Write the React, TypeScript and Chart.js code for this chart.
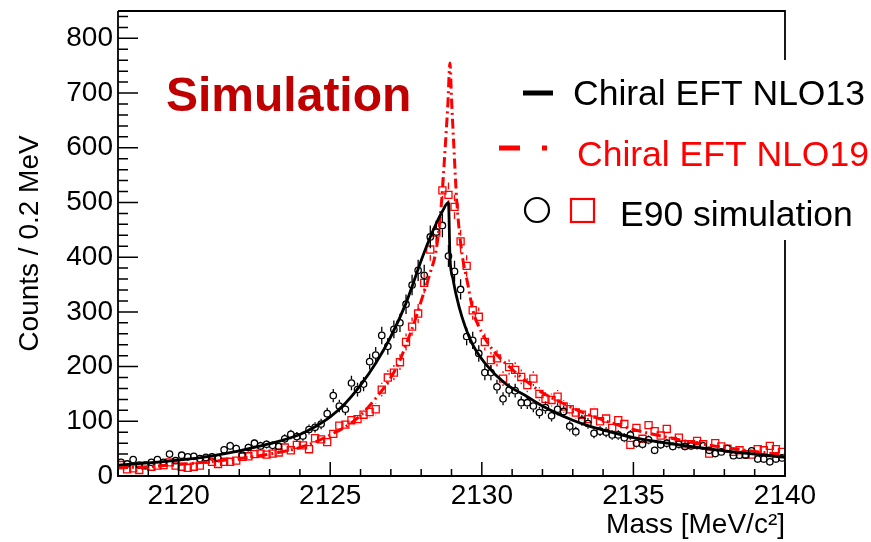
import React, { useEffect, useRef } from "react";
import { Chart, registerables } from "chart.js";

Chart.register(...registerables);

const FONT = '"Liberation Sans", Arial, Helvetica, sans-serif';

// axis ranges and ticks
const X_MIN = 2118;
const X_MAX = 2140;
const Y_MIN = 0;
const Y_MAX = 850;
const xTickValues = [2120, 2125, 2130, 2135, 2140];
const xMinorStep = 1;
const yTickValues = [0, 100, 200, 300, 400, 500, 600, 700, 800];
const yMinorStep = 20;

// histogram binning (0.2 MeV bins starting at 2118)
const BIN_START = 2118;
const BIN_WIDTH = 0.2;

// E90 simulation, black circles (NLO13)
const e90BlackCounts = [
  25, 22, 30, 20, 20, 25, 30, 25, 40, 28, 38, 35, 36, 32, 34, 35, 32, 48, 55, 50, 38, 52, 60, 55,
  58, 56, 54, 68, 76, 72, 73, 85, 89, 95, 114, 147, 128, 122, 170, 158, 168, 209, 221, 257, 237, 268, 280,
  314, 349, 376, 367, 437, 446, 458, 402, 374, 341,
  255, 248, 224, 189, 189, 163, 141, 157, 156, 134, 134, 128, 116, 125, 110, 122, 118, 91, 81, 102, 96,
  78, 82, 80, 75, 75, 70, 75, 60, 58, 66, 47, 57, 60, 54, 58, 54, 55, 56, 55, 47, 41, 44, 50, 37, 38, 38, 46, 31, 31, 26, 31, 33,
];

// E90 simulation, red squares (NLO19)
const e90RedCounts = [
  20, 12, 14, 11, 19, 17, 19, 20, 25, 19, 17, 15, 17, 19, 30, 26, 22, 26, 26, 28, 35, 36, 40,
  41, 39, 41, 43, 52, 47, 57, 56, 49, 69, 67, 62, 77, 92, 94, 102, 104, 112, 117, 122, 158, 180, 189, 208,
  245, 273, 297, 353, 414, 445, 522, 514, 492, 429, 384,
  303, 291, 245, 212, 215, 178, 199, 194, 181, 166, 178, 150, 141, 139, 145, 127, 122, 116, 112, 104,
  116, 100, 105, 88, 102, 95, 57, 88, 68, 93, 82, 74, 86, 64, 70, 58, 58, 64, 58, 41, 60, 54, 50, 44, 47, 40, 39, 49, 47, 55, 49, 44,
];

// Chiral EFT NLO13 curve (black solid)
const nlo13Mass = [
  2118, 2119, 2120, 2121, 2122, 2123, 2124, 2124.5, 2125, 2125.5, 2126, 2126.5, 2127, 2127.5, 2128, 2128.3,
  2128.5, 2128.7, 2128.9, 2128.95, 2129.05, 2129.15, 2129.35, 2129.7, 2130.15, 2130.8, 2131.5, 2132, 2132.5,
  2133, 2133.5, 2134, 2135, 2136, 2137, 2138, 2139, 2140,
];
const nlo13Counts = [
  20, 24, 29, 36, 46, 59, 76, 90, 108, 133, 166, 206, 255, 316, 394, 437,
  462, 484, 500, 400, 360, 332, 290, 240, 203, 168, 145, 128, 114,
  102, 92, 84, 70, 61, 53, 46, 40, 34,
];

// Chiral EFT NLO19 curve (red dash-dot)
const nlo19Mass = [
  2118, 2119, 2120, 2121, 2122, 2123, 2124, 2124.5, 2125, 2125.5, 2126, 2126.5, 2127, 2127.3, 2127.5, 2127.8,
  2128, 2128.3, 2128.5, 2128.67, 2128.78, 2128.88, 2128.95, 2129.0, 2129.08, 2129.17, 2129.33, 2129.54, 2129.72,
  2130, 2130.37, 2131, 2131.5, 2132, 2132.6, 2133, 2133.7, 2134.5, 2135, 2136, 2137, 2138, 2139, 2140,
];
const nlo19Counts = [
  15, 17, 21, 26, 32, 40, 52, 62, 75, 90, 111, 142, 180, 212, 240, 285,
  320, 372, 415, 500, 590, 680, 755, 690, 600, 505, 413, 350, 300,
  262, 230, 195, 172, 152, 135, 124, 108, 93, 85, 72, 61, 52, 45, 38,
];

const legendLabels = ["Chiral EFT NLO13", "Chiral EFT NLO19", "E90 simulation"];
const stampText = "Simulation";
const xTitle = "Mass [MeV/c\u00B2]";
const yTitle = "Counts / 0.2 MeV";

const errorBarPlugin = {
  id: "errorBars",
  afterDatasetDraw(chart: any, args: any) {
    const ds = chart.data.datasets[args.index];
    if (!ds.errorBars) return;
    const meta = args.meta;
    const ys = chart.scales.y;
    const ctx = chart.ctx;
    const r = ds.pointRadius + 0.5;
    ctx.save();
    ctx.strokeStyle = ds.borderColor;
    ctx.lineWidth = 1.3;
    meta.data.forEach((el: any, i: number) => {
      const v = ds.data[i].y;
      const err = Math.sqrt(v);
      const yTop = ys.getPixelForValue(v + err);
      const yBot = ys.getPixelForValue(v - err);
      ctx.beginPath();
      if (el.y - yTop > r) {
        ctx.moveTo(el.x, yTop);
        ctx.lineTo(el.x, el.y - r);
      }
      if (yBot - el.y > r) {
        ctx.moveTo(el.x, el.y + r);
        ctx.lineTo(el.x, yBot);
      }
      ctx.stroke();
    });
    ctx.restore();
  },
};

const framePlugin = {
  id: "rootFrame",
  afterDatasetsDraw(chart: any) {
    const { ctx, chartArea: a } = chart;
    const xs = chart.scales.x;
    const ys = chart.scales.y;
    ctx.save();
    ctx.strokeStyle = "#000";
    ctx.lineWidth = 1.5;
    // x ticks (inward)
    ctx.beginPath();
    for (let v = X_MIN; v <= X_MAX + 1e-9; v += xMinorStep) {
      const px = xs.getPixelForValue(v);
      const major = xTickValues.includes(v);
      ctx.moveTo(px, a.bottom);
      ctx.lineTo(px, a.bottom - (major ? 14 : 7));
    }
    // y ticks (inward)
    for (let v = Y_MIN; v <= Y_MAX + 1e-9; v += yMinorStep) {
      const py = ys.getPixelForValue(v);
      const major = yTickValues.includes(v);
      ctx.moveTo(a.left, py);
      ctx.lineTo(a.left + (major ? 20 : 10), py);
    }
    ctx.stroke();
    // frame
    ctx.lineWidth = 1.8;
    ctx.beginPath();
    ctx.moveTo(a.left, a.top);
    ctx.lineTo(a.left, a.bottom);
    ctx.lineTo(a.right, a.bottom);
    ctx.lineTo(a.right, 240);
    ctx.moveTo(a.left, a.top);
    ctx.lineTo(a.right, a.top);
    ctx.lineTo(a.right, 60);
    ctx.stroke();
    ctx.restore();
  },
  afterDraw(chart: any) {
    const ctx = chart.ctx;
    ctx.save();
    // stamp
    ctx.fillStyle = "#c00000";
    ctx.font = `bold 48px ${FONT}`;
    ctx.textAlign = "left";
    ctx.textBaseline = "alphabetic";
    ctx.fillText(stampText, 166, 111);

    // legend
    ctx.font = `35.5px ${FONT}`;
    // NLO13
    ctx.strokeStyle = "#000";
    ctx.lineWidth = 5;
    ctx.beginPath();
    ctx.moveTo(523, 93);
    ctx.lineTo(553, 93);
    ctx.stroke();
    ctx.fillStyle = "#000";
    ctx.fillText(legendLabels[0], 573, 105);
    // NLO19
    ctx.strokeStyle = "#ff0000";
    ctx.lineWidth = 5;
    ctx.beginPath();
    ctx.moveTo(499, 148);
    ctx.lineTo(520, 148);
    ctx.moveTo(542, 148);
    ctx.lineTo(547, 148);
    ctx.stroke();
    ctx.fillStyle = "#ff0000";
    ctx.fillText(legendLabels[1], 577, 166);
    // E90
    ctx.strokeStyle = "#000";
    ctx.lineWidth = 2.2;
    ctx.beginPath();
    ctx.arc(537, 210, 12, 0, Math.PI * 2);
    ctx.stroke();
    ctx.strokeStyle = "#ff0000";
    ctx.strokeRect(571, 199, 23, 23);
    ctx.fillStyle = "#000";
    ctx.fillText(legendLabels[2], 620, 226);
    ctx.restore();
  },
};

export default function App() {
  const ref = useRef<HTMLCanvasElement | null>(null);

  useEffect(() => {
    const canvas = ref.current;
    if (!canvas) return;
    const blackPts = e90BlackCounts.map((v, i) => ({ x: BIN_START + BIN_WIDTH * (i + 0.5), y: v }));
    const redPts = e90RedCounts.map((v, i) => ({ x: BIN_START + BIN_WIDTH * (i + 0.5), y: v }));
    const nlo13Pts = nlo13Mass.map((m, i) => ({ x: m, y: nlo13Counts[i] }));
    const nlo19Pts = nlo19Mass.map((m, i) => ({ x: m, y: nlo19Counts[i] }));

    const chart = new Chart(canvas, {
      type: "scatter",
      data: {
        datasets: [
          {
            label: legendLabels[0],
            data: nlo13Pts,
            showLine: true,
            borderColor: "#000000",
            borderWidth: 2.8,
            pointRadius: 0,
            cubicInterpolationMode: "monotone",
            order: 0,
          } as any,
          {
            label: legendLabels[1],
            data: nlo19Pts,
            showLine: true,
            borderColor: "#ff0000",
            borderWidth: 3,
            borderDash: [10, 4, 2, 4],
            pointRadius: 0,
            cubicInterpolationMode: "monotone",
            order: 1,
          } as any,
          {
            label: legendLabels[2] + " (NLO13)",
            data: blackPts,
            pointStyle: "circle",
            pointRadius: 3.2,
            borderColor: "#000000",
            backgroundColor: "rgba(0,0,0,0)",
            pointBorderWidth: 1.3,
            errorBars: true,
            order: 2,
          } as any,
          {
            label: legendLabels[2] + " (NLO19)",
            data: redPts,
            pointStyle: "rect",
            pointRadius: 5,
            borderColor: "#ff0000",
            backgroundColor: "rgba(0,0,0,0)",
            pointBorderWidth: 1.3,
            errorBars: true,
            order: 3,
          } as any,
        ],
      },
      options: {
        animation: false,
        responsive: false,
        devicePixelRatio: 1,
        layout: { padding: { top: 11, right: 86, left: 0, bottom: 0 } },
        plugins: {
          legend: { display: false },
          tooltip: { enabled: false },
        },
        scales: {
          x: {
            type: "linear",
            min: X_MIN,
            max: X_MAX,
            afterBuildTicks: (s: any) => {
              s.ticks = xTickValues.map((v) => ({ value: v }));
            },
            afterFit: (s: any) => {
              s.height = 66;
              s.paddingLeft = 0;
              s.paddingRight = 0;
            },
            grid: { display: false, drawTicks: false },
            border: { display: false },
            ticks: {
              font: { family: FONT, size: 28 },
              color: "#000",
              padding: 3,
              maxRotation: 0,
              autoSkip: false,
              callback: (v: any) => String(v),
            },
            title: {
              display: true,
              text: xTitle,
              align: "end",
              font: { family: FONT, size: 28 },
              color: "#000",
              padding: { top: 0, bottom: 0 },
            },
          },
          y: {
            type: "linear",
            min: Y_MIN,
            max: Y_MAX,
            afterBuildTicks: (s: any) => {
              s.ticks = yTickValues.map((v) => ({ value: v }));
            },
            afterFit: (s: any) => {
              s.width = 118;
              s.paddingTop = 0;
              s.paddingBottom = 0;
            },
            grid: { display: false, drawTicks: false },
            border: { display: false },
            ticks: {
              font: { family: FONT, size: 28 },
              color: "#000",
              padding: 5,
              autoSkip: false,
              callback: (v: any) => String(v),
            },
            title: {
              display: true,
              text: yTitle,
              font: { family: FONT, size: 28 },
              color: "#000",
              padding: { top: 13, bottom: 0 },
            },
          },
        },
      } as any,
      plugins: [errorBarPlugin, framePlugin],
    });
    return () => chart.destroy();
  }, []);

  return (
    <div style={{ position: "absolute", left: 0, top: 0, width: 871, height: 542, background: "#fff" }}>
      <canvas ref={ref} width={871} height={542} style={{ display: "block", width: 871, height: 542 }} />
    </div>
  );
}
